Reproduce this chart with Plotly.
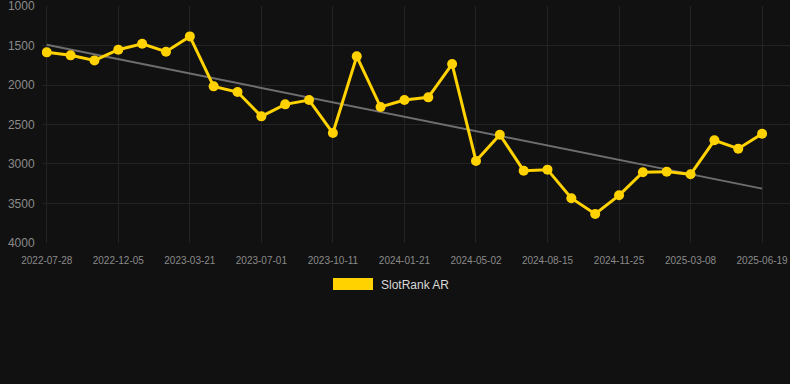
import plotly.graph_objects as go

dates = [
    "2022-07-28", "2022-09-10", "2022-10-23", "2022-12-05", "2023-01-09", "2023-02-13",
    "2023-03-21", "2023-04-24", "2023-05-28", "2023-07-01", "2023-08-04", "2023-09-07",
    "2023-10-11", "2023-11-14", "2023-12-18", "2024-01-21", "2024-02-24", "2024-03-29",
    "2024-05-02", "2024-06-05", "2024-07-10", "2024-08-15", "2024-09-18", "2024-10-22",
    "2024-11-25", "2024-12-29", "2025-02-02", "2025-03-08", "2025-04-11", "2025-05-15",
    "2025-06-19",
]
rank_values = [
    1586, 1624, 1688, 1553, 1477, 1578, 1384, 2017, 2089, 2397, 2245, 2190, 2608,
    1637, 2279, 2190, 2156, 1734, 2962, 2629, 3085, 3072, 3434, 3633, 3397, 3105,
    3097, 3131, 2700, 2806, 2617,
]
trend_dates = ["2022-07-28", "2025-06-19"]
trend_values = [1490, 3312]
y_ticks = [1000, 1500, 2000, 2500, 3000, 3500, 4000]
x_tick_labels = dates[::3]
series_name = "SlotRank AR"

GOLD = "#FFD200"
BG = "#111111"
GRID = "#232323"
TICK = "#8a8a8a"
FONT = "Liberation Sans, Arial, sans-serif"

fig = go.Figure()
fig.add_trace(go.Scatter(
    x=trend_dates, y=trend_values, mode="lines",
    line=dict(color="#6e6e6e", width=2), showlegend=False, hoverinfo="skip",
))
fig.add_trace(go.Scatter(
    x=dates, y=rank_values, mode="lines+markers", name=series_name,
    line=dict(color=GOLD, width=3), marker=dict(color=GOLD, size=10),
    showlegend=False,
))

fig.update_layout(
    width=790, height=384,
    paper_bgcolor=BG, plot_bgcolor=BG,
    margin=dict(l=42, r=0, t=6, b=141),
    font=dict(family=FONT, color=TICK),
    xaxis=dict(
        type="category", categoryorder="array", categoryarray=dates,
        range=[-0.2, 31.17],
        tickmode="array", tickvals=x_tick_labels, ticktext=x_tick_labels,
        showgrid=True, gridcolor=GRID, gridwidth=1,
        zeroline=False, showline=False,
        tickfont=dict(size=10, color=TICK), ticks="outside", ticklen=8,
        tickcolor=BG,
    ),
    yaxis=dict(
        range=[4001, 999], tickmode="array", tickvals=y_ticks,
        showgrid=True, gridcolor=GRID, gridwidth=1,
        zeroline=False, showline=False,
        tickfont=dict(size=12, color=TICK), ticks="outside", ticklen=4,
        tickcolor=BG, ticklabeloverflow="allow",
    ),
)

# legend drawn as swatch + label
fig.add_shape(type="rect", xref="paper", yref="paper",
              x0=(333 - 42) / 748, x1=(373 - 42) / 748,
              y0=(384 - 141 - 290) / 237, y1=(384 - 141 - 278) / 237,
              fillcolor=GOLD, line=dict(width=0))
fig.add_annotation(xref="paper", yref="paper",
                   x=(379 - 42) / 748, y=(384 - 141 - 284.5) / 237,
                   text=series_name, showarrow=False, xanchor="left", yanchor="middle",
                   font=dict(family=FONT, size=12, color="#d8d8d8"))

fig.write_html(
    "out.html",
    config={"displayModeBar": False},
    post_script="document.body.style.margin='0';document.body.style.background='#111111';",
)
